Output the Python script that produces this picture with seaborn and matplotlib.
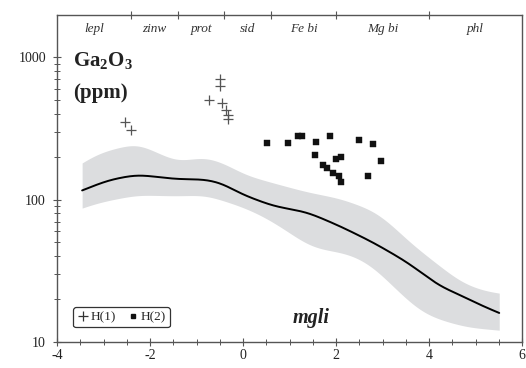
import numpy as np
import pandas as pd
import matplotlib
matplotlib.use("Agg")
import matplotlib.pyplot as plt
import seaborn as sns
from matplotlib.lines import Line2D

# ---- data ----
curve_x = [-3.46, -2.90, -2.28, -1.42, -0.82, -0.45, -0.06, 0.65, 1.38, 2.09, 2.80, 3.53, 3.96, 4.24, 4.67, 5.10, 5.51]
curve_y = [116, 137, 150, 139, 139, 131, 110, 90, 81.7, 65, 50, 36.4, 28.6, 24.5, 21.4, 18.2, 16.0]

band_x = [-3.46, -3.08, -2.28, -1.42, -0.82, -0.40, 0.04, 0.65, 1.38, 2.09, 2.80, 3.16, 3.53, 3.87, 4.24, 4.67, 5.10, 5.51]
band_hi = [180, 215, 250, 184, 201, 180, 149, 131, 113, 102, 84, 68.4, 52, 42.2, 34, 26.5, 23.2, 22.1]
band_lo_x = [-3.46, -3.08, -2.28, -1.42, -0.82, -0.45, -0.06, 0.30, 0.65, 1.01, 1.38, 1.72, 2.09, 2.45, 2.80, 3.16, 3.53, 3.87, 4.24, 4.82, 5.51]
band_lo = [87, 96, 108, 106, 108, 99, 90, 80.3, 69.5, 58.2, 48.0, 44.3, 42.9, 39.5, 33.6, 25.9, 19.7, 16.0, 14.3, 12.7, 12.1]

h1_x = [-2.54, -2.41, -0.73, -0.49, -0.49, -0.45, -0.37, -0.32, -0.32]
h1_y = [350, 308, 499, 701, 626, 475, 425, 392, 367]

h2_x = [0.52, 0.97, 1.18, 1.27, 1.57, 1.87, 2.49, 2.80, 1.55, 2.00, 2.11, 1.72, 1.81, 1.94, 2.06, 2.11, 2.69, 2.97]
h2_y = [249, 249, 279, 279, 253, 279, 262, 245, 205, 192, 199, 175, 166, 153, 146, 133, 146, 186]

mineral_bounds = [-4.0, -2.4, -1.4, -0.4, 0.6, 2.0, 4.0, 6.0]
mineral_names = ["lepl", "zinw", "prot", "sid", "Fe bi", "Mg bi", "phl"]

x_ticks = [-4, -2, 0, 2, 4, 6]

# ---- style ----
sns.set_style("ticks")
serif = ["Liberation Serif", "DejaVu Serif"]
plt.rcParams["font.family"] = serif

fig = plt.figure(figsize=(5.26, 3.68), dpi=100)
ax = fig.add_axes([0.1084, 0.0707, 0.884, 0.8885])


def smooth_curve(xs, ys, grid, bw=0.22):
    """Draw a smooth curve through the read points: linear interpolation in log space,
    then local-linear Gaussian smoothing (no edge bias)."""
    xs = np.asarray(xs, float)
    ly = np.log10(np.asarray(ys, float))
    fine = np.linspace(xs[0], xs[-1], 600)
    fy = np.interp(fine, xs, ly)
    out = np.empty_like(grid)
    for j, xv in enumerate(grid):
        w = np.exp(-0.5 * ((fine - xv) / bw) ** 2)
        X = np.vstack([np.ones_like(fine), fine - xv]).T
        W = X * w[:, None]
        beta = np.linalg.solve(X.T @ W, W.T @ fy)
        out[j] = beta[0]
    return 10 ** out


grid = np.linspace(-3.46, 5.51, 400)
bhi = smooth_curve(band_x, band_hi, grid)
blo = smooth_curve(band_lo_x, band_lo, grid)
ax.fill_between(grid, blo, bhi, color="#dcdddf", lw=0, zorder=1)

cgrid = np.linspace(curve_x[0], curve_x[-1], 400)
cy = smooth_curve(curve_x, curve_y, cgrid, bw=0.2)
sns.lineplot(x=cgrid, y=cy, ax=ax, color="black", lw=1.4, zorder=3, sort=False)

df1 = pd.DataFrame({"x": h1_x, "y": h1_y})
df2 = pd.DataFrame({"x": h2_x, "y": h2_y})
sns.scatterplot(data=df1, x="x", y="y", ax=ax, marker="+", s=55, color="#555555",
                linewidth=0.9, zorder=4)
sns.scatterplot(data=df2, x="x", y="y", ax=ax, marker="s", s=22, color="#111111",
                edgecolor="#111111", linewidth=0.3, zorder=4)

ax.set_yscale("log")
ax.set_xlim(-4, 6)
ax.set_ylim(10, 1980)
ax.set_xticks(x_ticks)
ax.set_xticklabels([str(t) for t in x_ticks])
ax.set_xticks(np.arange(-4, 6.01, 0.5), minor=True)
ax.set_yticks([10, 100, 1000])
ax.set_yticklabels(["10", "100", "1000"])
ax.set_xlabel(""); ax.set_ylabel("")

for s in ax.spines.values():
    s.set_color("#555555")
    s.set_linewidth(1.0)

ax.tick_params(which="major", direction="inout", length=6, width=0.8, color="#555555",
               labelsize=10, labelcolor="#222222", pad=2)
ax.tick_params(axis="y", which="major", pad=5)
ax.tick_params(which="minor", direction="inout", length=4, width=0.7, color="#555555")
ax.tick_params(axis="x", top=False)
ax.tick_params(axis="y", right=False, which="both")

# mineral boundaries on top spine
sec = ax.secondary_xaxis("top")
sec.set_xticks(mineral_bounds[1:-1])
sec.set_xticklabels([])
sec.tick_params(direction="inout", length=6, width=0.8, color="#555555")
sec.spines["top"].set_visible(False)

for name, a, b in zip(mineral_names, mineral_bounds[:-1], mineral_bounds[1:]):
    ax.text((a + b) / 2, 0.958, name, transform=ax.get_xaxis_transform(),
            ha="center", va="center", fontsize=9.5, style="italic", color="#333333")

ax.text(0.035, 0.86, r"Ga$_\mathregular{2}$O$_\mathregular{3}$", transform=ax.transAxes,
        fontsize=15, fontweight="bold", ha="left", va="center", color="#222222")
ax.text(0.035, 0.76, "(ppm)", transform=ax.transAxes,
        fontsize=15, fontweight="bold", ha="left", va="center", color="#222222")
ax.text(0.546, 0.072, "mgli", transform=ax.transAxes, fontsize=14.5, fontweight="bold",
        style="italic", ha="center", va="center", color="#222222")

handles = [Line2D([], [], marker="+", ls="none", color="#333333", markersize=7, mew=0.9),
           Line2D([], [], marker="s", ls="none", color="#111111", markersize=3.5)]
leg = ax.legend(handles, ["H(1)", "H(2)"], loc="lower left", bbox_to_anchor=(0.035, 0.045),
                ncol=2, fontsize=9.5, frameon=True, fancybox=True, handlelength=0.8,
                handletextpad=0.2, columnspacing=0.9, borderpad=0.3, borderaxespad=0)
leg.get_frame().set_edgecolor("#333333")
leg.get_frame().set_linewidth(0.9)
leg.get_frame().set_alpha(1)

fig.savefig("out.png", dpi=100)
